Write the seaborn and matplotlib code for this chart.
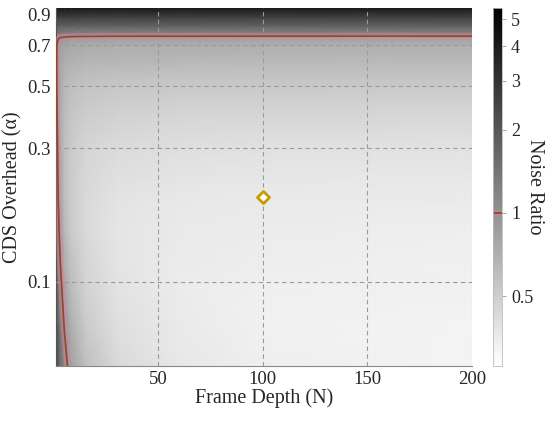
import matplotlib
matplotlib.use("Agg")
import matplotlib.pyplot as plt
import seaborn as sns
import numpy as np
from matplotlib.colors import LogNorm
from matplotlib.ticker import FixedLocator, NullFormatter, NullLocator

# Frame depth samples (x) and CDS overhead samples (y)
FRAME_DEPTH = [1, 1.5, 2, 3, 5, 8, 15, 30, 60, 100, 200]
CDS_OVERHEAD = [0.05, 0.07, 0.1, 0.15, 0.2, 0.3, 0.4, 0.5, 0.6, 0.7,
                0.74, 0.77, 0.82, 0.88, 0.95]

# Noise ratio, one row per CDS overhead value
NOISE_RATIO = [
    [3.20, 2.50, 2.00, 1.55, 1.15, 0.85, 0.59, 0.44, 0.37, 0.34, 0.32],
    [2.60, 2.10, 1.75, 1.35, 0.97, 0.72, 0.52, 0.41, 0.36, 0.33, 0.32],
    [2.10, 1.70, 1.42, 1.09, 0.78, 0.61, 0.47, 0.39, 0.35, 0.34, 0.33],
    [1.70, 1.35, 1.13, 0.87, 0.65, 0.53, 0.44, 0.38, 0.36, 0.35, 0.34],
    [1.65, 1.22, 1.01, 0.78, 0.61, 0.51, 0.44, 0.39, 0.37, 0.36, 0.355],
    [1.43, 1.08, 0.91, 0.74, 0.60, 0.52, 0.46, 0.43, 0.41, 0.40, 0.39],
    [1.28, 1.01, 0.87, 0.73, 0.62, 0.55, 0.51, 0.48, 0.46, 0.46, 0.45],
    [1.17, 0.95, 0.85, 0.74, 0.65, 0.60, 0.56, 0.54, 0.53, 0.53, 0.52],
    [1.11, 0.95, 0.87, 0.78, 0.72, 0.68, 0.65, 0.64, 0.63, 0.62, 0.62],
    [1.11, 0.98, 0.92, 0.85, 0.80, 0.77, 0.75, 0.73, 0.73, 0.72, 0.72],
    [1.22, 1.09, 1.03, 0.96, 0.91, 0.88, 0.86, 0.84, 0.84, 0.83, 0.83],
    [1.34, 1.29, 1.27, 1.25, 1.23, 1.22, 1.21, 1.20, 1.20, 1.20, 1.20],
    [1.88, 1.84, 1.82, 1.79, 1.78, 1.77, 1.76, 1.75, 1.75, 1.75, 1.75],
    [2.72, 2.68, 2.66, 2.64, 2.62, 2.62, 2.61, 2.60, 2.60, 2.60, 2.60],
    [4.20, 4.17, 4.15, 4.13, 4.12, 4.11, 4.11, 4.10, 4.10, 4.10, 4.10],
]

# operating point
MARKER_N = [100]
MARKER_ALPHA = [0.2]

X_TICKS = [50, 100, 150, 200]
Y_TICKS = [0.1, 0.3, 0.5, 0.7, 0.9]
Y_TICK_LABELS = ["0.1", "0.3", "0.5", "0.7", "0.9"]
CB_TICKS = [0.5, 1, 2, 3, 4, 5]
CB_TICK_LABELS = ["0.5", "1", "2", "3", "4", "5"]

sns.set_style("white")
plt.rcParams["font.family"] = ["Liberation Serif", "DejaVu Serif"]

fig = plt.figure(figsize=(5.5, 4.23), dpi=100)
ax = fig.add_axes([0.1018, 0.1348, 0.7564, 0.8463])
cax = fig.add_axes([0.8964, 0.1348, 0.0164, 0.8463])

norm = LogNorm(vmin=0.28, vmax=5.5)
z = np.array(NOISE_RATIO)
mesh = ax.pcolormesh(FRAME_DEPTH, CDS_OVERHEAD, z, shading="gouraud",
                     cmap="gray_r", norm=norm, rasterized=True)

# ratio = 1 contour, with a soft pink halo behind it
ax.contour(FRAME_DEPTH, CDS_OVERHEAD, z, levels=[1.0],
           colors=["#f07aa0"], linewidths=5, alpha=0.35, zorder=3)
ax.contour(FRAME_DEPTH, CDS_OVERHEAD, z, levels=[1.0],
           colors=["#8b4a2a"], linewidths=1.2, zorder=4)

sns.scatterplot(x=MARKER_N, y=MARKER_ALPHA, marker="D", s=38,
                facecolor="white", edgecolor="#c89b00", linewidth=2,
                ax=ax, zorder=5, legend=False)

ax.set_yscale("log")
ax.set_xlim(1, 200)
ax.set_ylim(0.05, 0.95)
ax.set_xticks(X_TICKS)
ax.set_xticklabels([str(t) for t in X_TICKS])
ax.yaxis.set_major_locator(FixedLocator(Y_TICKS))
ax.set_yticklabels(Y_TICK_LABELS)
ax.yaxis.set_minor_locator(FixedLocator([0.06, 0.07, 0.08, 0.09, 0.2, 0.4, 0.6, 0.8]))
ax.yaxis.set_minor_formatter(NullFormatter())

ax.grid(True, which="major", ls=(0, (4, 3)), color="#9a9a9a", lw=0.8)
ax.set_axisbelow(False)
# no horizontal grid line shows at 0.9 in the dark band
ax.yaxis.get_gridlines()[-1].set_visible(False)
ax.tick_params(axis="both", which="both", direction="in", color="#777777",
               labelsize=13.5, labelcolor="#262626")
ax.tick_params(axis="both", which="major", length=4, width=0.7)
ax.tick_params(axis="y", which="minor", length=2.5, width=0.6)

for side in ["top", "right"]:
    ax.spines[side].set_visible(False)
ax.spines["left"].set_color("#555555")
ax.spines["bottom"].set_color("#888888")
ax.spines["left"].set_linewidth(0.8)
ax.spines["bottom"].set_linewidth(0.8)

ax.set_xlabel("Frame Depth (N)", fontsize=14.5, color="#262626", labelpad=0)
ax.set_ylabel("CDS Overhead (α)", fontsize=14.5, color="#262626", labelpad=4)

cbar = fig.colorbar(mesh, cax=cax)
cbar.set_ticks(CB_TICKS)
cbar.set_ticklabels(CB_TICK_LABELS)
cbar.ax.yaxis.set_minor_locator(NullLocator())
cbar.ax.tick_params(labelsize=13, labelcolor="#262626", color="#999999",
                    length=3, width=0.6)
cbar.outline.set_edgecolor("#bbbbbb")
cbar.outline.set_linewidth(0.6)
cbar.ax.axhline(1.0, color="#f07aa0", lw=4, alpha=0.4)
cbar.ax.axhline(1.0, color="#8b4a2a", lw=1.3)
cbar.set_label("Noise Ratio", rotation=270, fontsize=14.5, color="#262626",
               va="center", ha="center")
cbar.ax.yaxis.set_label_coords(4.6, 0.5)

fig.savefig("out.png", dpi=100)
